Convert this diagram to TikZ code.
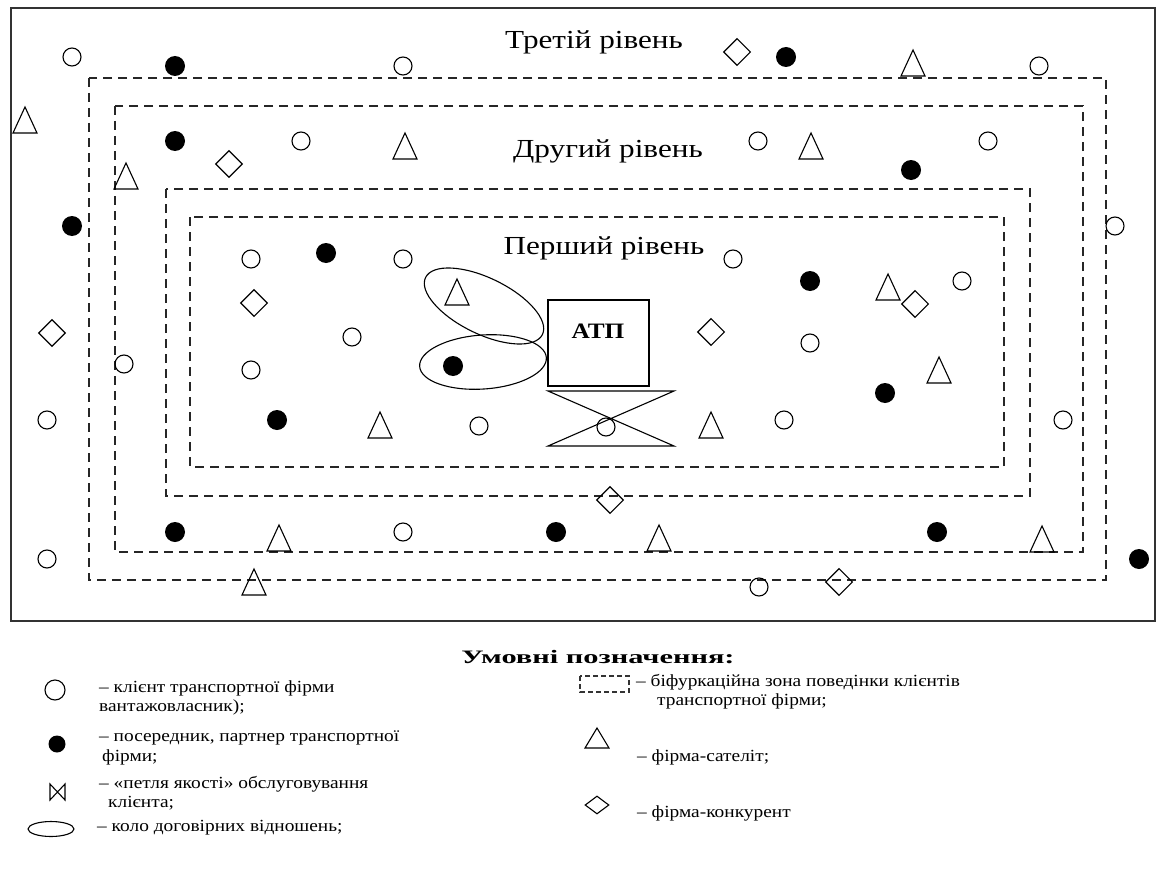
\documentclass[tikz,border=0pt]{standalone}
\usepackage{fontspec}
\setmainfont{Liberation Serif}
\usetikzlibrary{shapes.geometric}
\newcommand{\wlvl}[1]{\scalebox{1.2}[1]{\fontsize{26}{28}\selectfont #1}}
\newcommand{\wleg}[1]{\scalebox{1.14}[1]{#1}}
\begin{document}
\begin{tikzpicture}[x=1pt,y=-1pt,
  cl/.style={circle,draw,line width=1.1pt,minimum size=18pt,inner sep=0pt},
  fl/.style={circle,fill=black,minimum size=20pt,inner sep=0pt},
  tri/.style={draw,line width=1.1pt,line join=miter},
  dm/.style={diamond,draw,line width=1.1pt,minimum width=27pt,minimum height=27pt,inner sep=0pt},
  zone/.style={draw=black!85,line width=1.3pt,dash pattern=on 9pt off 6pt},
  lvl/.style={inner sep=0pt},
  leg/.style={font=\fontsize{17}{19}\selectfont,inner sep=0pt,anchor=west},
]
\useasboundingbox (0,0) rectangle (1156,872);
\fill[white] (0,0) rectangle (1156,872);
% outer frame
\draw[line width=1.5pt,black!80] (11,8) rectangle (1155,621);
% zones
\draw[zone] (89,78) rectangle (1106,580);
\draw[zone] (115,106) rectangle (1083,552);
\draw[zone] (166,189) rectangle (1030,496);
\draw[zone] (190,217) rectangle (1004,467);
% level labels
\node[lvl] (l3) at (594,42) {\wlvl{Третій рівень}};
\node[lvl] (l2) at (608,151) {\wlvl{Другий рівень}};
\node[lvl] (l1) at (604,248) {\wlvl{Перший рівень}};
% open circles
\foreach \x/\y [count=\i] in {72/57,403/66,1039/66,1115/226,47/420,1063/420,47/559,759/587,
  301/141,758/141,988/141,124/364,403/532,
  251/259,403/259,733/259,962/281,352/337,810/343,251/370,479/426,606/427,784/420}
  \node[cl] (c\i) at (\x,\y) {};
% filled circles
\foreach \x/\y [count=\i] in {175/66,786/57,72/226,1139/559,
  175/141,911/170,175/532,556/532,937/532,
  326/253,810/281,885/393,277/420,453/366}
  \node[fl] (f\i) at (\x,\y) {};
% triangles
\foreach \x/\y [count=\i] in {913/63,25/120,254/582,1042/539,
  405/146,811/146,126/176,279/538,659/538,
  888/287,939/370,380/425,711/425,457/292}
  {\coordinate (t\i) at (\x,\y);
   \draw[tri,shift={(t\i)}] (-12,13) -- (0,-13) -- (12,13) -- cycle;}
% diamonds
\foreach \x/\y [count=\i] in {737/52,52/333,839/582,
  229/164,610/500,
  254/303,915/304,711/332}
  \node[dm] (d\i) at (\x,\y) {};
% ellipses (circles of contractual relations)
\node[ellipse,draw,line width=1.1pt,minimum width=130pt,minimum height=56pt,inner sep=0pt,rotate=-26] (e1) at (484,306) {};
\node[ellipse,draw,line width=1.1pt,minimum width=127pt,minimum height=54pt,inner sep=0pt,rotate=4] (e2) at (483,362) {};
% ATP
\node[draw,line width=1.1pt,minimum width=101pt,minimum height=86pt,inner sep=0pt] (atp) at (598.5,343) {};
\node[inner sep=0pt] (atpt) at (598,331) {\scalebox{1.15}[1]{\bfseries\fontsize{22}{24}\selectfont АТП}};
% quality loop
\coordinate (q1) at (548,391);
\coordinate (q2) at (674,391);
\coordinate (q3) at (548,446);
\coordinate (q4) at (674,446);
\draw[line width=1.1pt,line join=miter] (q1) -- (q2) -- (q3) -- (q4) -- cycle;
% legend
\node[inner sep=0pt] (lt) at (598,657) {\scalebox{1.6}[1]{\bfseries\fontsize{19}{21}\selectfont Умовні позначення:}};
\node[cl,minimum size=20pt] (lc) at (55,690) {};
\node[leg] (lct1) at (99,688) {\wleg{– клієнт транспортної фірми}};
\node[leg] (lct2) at (99,707) {\wleg{вантажовласник);}};
\node[fl,minimum size=17pt] (lf) at (57,744) {};
\node[leg] (lft1) at (99,738) {\wleg{– посередник, партнер транспортної}};
\node[leg] (lft2) at (102,757) {\wleg{фірми;}};
\coordinate (b1) at (50,784);
\coordinate (b2) at (50,800);
\coordinate (b3) at (65,784);
\coordinate (b4) at (65,800);
\draw[line width=1.1pt] (b1) -- (b2) -- (b3) -- (b4) -- cycle;
\node[leg] (lqt1) at (99,784) {\wleg{– «петля якості» обслуговування}};
\node[leg] (lqt2) at (108,803) {\wleg{клієнта;}};
\node[ellipse,draw,line width=1.1pt,minimum width=46pt,minimum height=15pt,inner sep=0pt] (le) at (51,829) {};
\node[leg] (let) at (97,828) {\wleg{– коло договірних відношень;}};
\draw[line width=1.1pt,draw=black!80,dash pattern=on 5pt off 3pt] (580,676) rectangle (629,692);
\node[leg] (lzt1) at (636,682) {\wleg{– біфуркаційна зона поведінки клієнтів}};
\node[leg] (lzt2) at (657,701) {\wleg{транспортної фірми;}};
\coordinate (lt3) at (597,738);
\draw[tri,shift={(lt3)}] (-12,10) -- (0,-10) -- (12,10) -- cycle;
\node[leg] (ltt) at (637,757) {\wleg{– фірма-сателіт;}};
\node[dm,minimum width=24pt,minimum height=18pt] (ld) at (597,805) {};
\node[leg] (ldt) at (637,813) {\wleg{– фірма-конкурент}};
\end{tikzpicture}
\end{document}
